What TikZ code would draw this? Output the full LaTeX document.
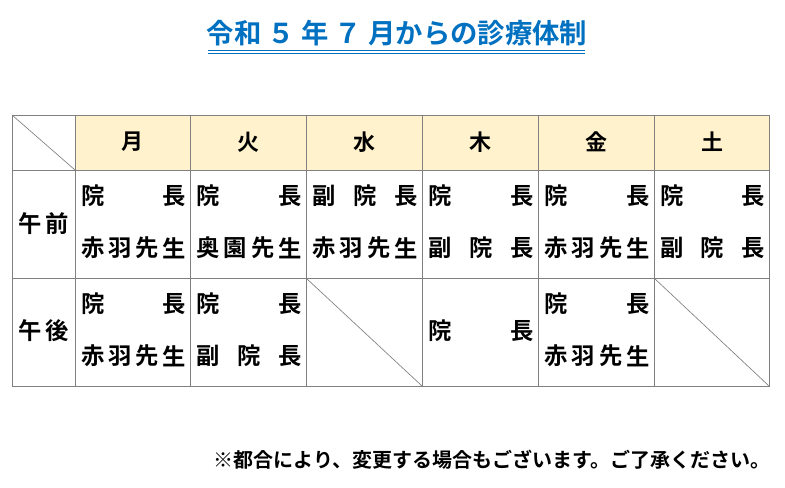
\documentclass[tikz,border=0pt]{standalone}
\usepackage{fontspec}
\newfontfamily\jpb{Noto Sans CJK JP Bold}
\definecolor{titleblue}{RGB}{0,112,192}
\definecolor{headfill}{RGB}{255,242,204}
\definecolor{gridgray}{RGB}{128,128,128}
\newcommand\jrow[6]{% prefix, left x, right x, y, n, list
  \foreach \c [count=\i] in {#6} {
    \pgfmathsetmacro\px{(#2+18)+(\i-1)*((#3-16)-(#2+18))/(#5-1)}
    \node[cell] (#1-\i) at (\px,#4) {\c};
  }}
\begin{document}
\begin{tikzpicture}[x=0.75pt,y=-0.75pt,
  cell/.style={font=\jpb\fontsize{17.5}{18}\selectfont,inner sep=0pt,anchor=center},
  head/.style={font=\jpb\fontsize{16.5}{18}\selectfont,inner sep=0pt},
  grid/.style={draw=gridgray,line width=0.7pt},
  diag/.style={draw=gridgray,line width=0.5pt}]
\useasboundingbox (0,0) rectangle (785,488);
\node[font=\jpb\fontsize{20.5}{22}\selectfont,text=titleblue,inner sep=0pt] (title) at (397,33) {令和 ５ 年 ７ 月からの診療体制};
\draw[titleblue,line width=1.2pt] (208,50.5) -- (585,50.5) (208,53.5) -- (585,53.5);
\fill[headfill] (75,115) rectangle (769,170);
\draw[grid] (12,115) rectangle (769,386);
\foreach \y in {170,278} \draw[grid] (12,\y) -- (769,\y);
\foreach \x in {75,190,306,422,538,654} \draw[grid] (\x,115) -- (\x,386);
\draw[diag] (12,115) -- (75,170);
\draw[diag] (306,278) -- (422,386);
\draw[diag] (654,278) -- (769,386);
\foreach \t/\x [count=\i] in {月/132,火/248,水/364,木/480,金/596,土/712}
  \node[head] (h\i) at (\x,142) {\t};
\node[cell] (r1a) at (30,224) {午}; \node[cell] (r1b) at (57,224) {前};
\node[cell] (r2a) at (30,331) {午}; \node[cell] (r2b) at (57,331) {後};
\jrow{a1}{75}{190}{196}{2}{院,長}
\jrow{a1b}{75}{190}{248}{4}{赤,羽,先,生}
\jrow{a2}{190}{306}{196}{2}{院,長}
\jrow{a2b}{190}{306}{248}{4}{奥,園,先,生}
\jrow{a3}{306}{422}{196}{3}{副,院,長}
\jrow{a3b}{306}{422}{248}{4}{赤,羽,先,生}
\jrow{a4}{422}{538}{196}{2}{院,長}
\jrow{a4b}{422}{538}{248}{3}{副,院,長}
\jrow{a5}{538}{654}{196}{2}{院,長}
\jrow{a5b}{538}{654}{248}{4}{赤,羽,先,生}
\jrow{a6}{654}{769}{196}{2}{院,長}
\jrow{a6b}{654}{769}{248}{3}{副,院,長}
\jrow{p1}{75}{190}{304}{2}{院,長}
\jrow{p1b}{75}{190}{356}{4}{赤,羽,先,生}
\jrow{p2}{190}{306}{304}{2}{院,長}
\jrow{p2b}{190}{306}{356}{3}{副,院,長}
\jrow{p4}{422}{538}{331}{2}{院,長}
\jrow{p5}{538}{654}{304}{2}{院,長}
\jrow{p5b}{538}{654}{356}{4}{赤,羽,先,生}
\node[font=\jpb\fontsize{15}{16}\selectfont,anchor=east,inner sep=0pt] (note) at (771,460) {※都合により、変更する場合もございます。ご了承ください。};
\end{tikzpicture}
\end{document}
